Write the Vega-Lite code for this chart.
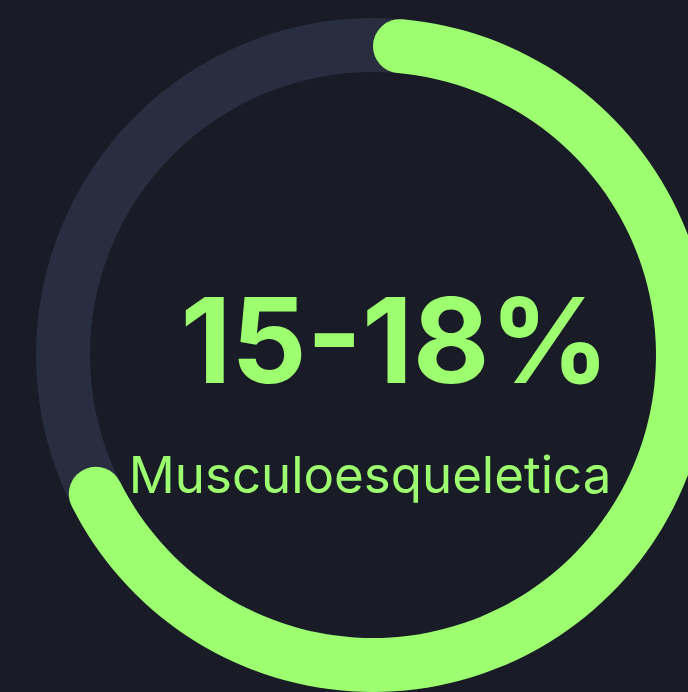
{
  "$schema": "https://vega.github.io/schema/vega-lite/v6.json",
  "width": 688,
  "height": 692,
  "autosize": {"type": "fit", "contains": "padding"},
  "padding": {"left": 58, "right": 0, "top": 18, "bottom": 0},
  "background": "#191c27",
  "config": {"view": {"stroke": null}},
  "datasets": {
    "arcs": [
      {"part": "track", "start": 0, "end": 100},
      {"part": "value", "start": 0, "end": 69}
    ],
    "labels": [
      {"kind": "value", "text": "15-18%"},
      {"kind": "category", "text": "Musculoesqueletica"}
    ]
  },
  "layer": [
    {
      "data": {"name": "arcs"},
      "transform": [{"filter": "datum.part === 'track'"}],
      "mark": {"type": "arc", "radius": 337, "radius2": 283, "color": "#282d3f"},
      "encoding": {
        "theta": {"field": "start", "type": "quantitative", "scale": {"domain": [0, 100]}},
        "theta2": {"field": "end"}
      }
    },
    {
      "data": {"name": "arcs"},
      "transform": [{"filter": "datum.part === 'value'"}],
      "mark": {"type": "arc", "radius": 337, "radius2": 283, "cornerRadius": 27, "color": "#9dff6f"},
      "encoding": {
        "theta": {"field": "start", "type": "quantitative", "scale": {"domain": [0, 100]}},
        "theta2": {"field": "end"}
      }
    },
    {
      "data": {"name": "labels"},
      "transform": [{"filter": "datum.kind === 'value'"}],
      "mark": {"type": "text", "font": "Inter", "fontWeight": 700, "fontSize": 118, "color": "#9dff6f", "align": "center", "baseline": "alphabetic", "dx": 22, "dy": 28},
      "encoding": {"text": {"field": "text"}}
    },
    {
      "data": {"name": "labels"},
      "transform": [{"filter": "datum.kind === 'category'"}],
      "mark": {"type": "text", "font": "Inter", "fontWeight": 400, "fontSize": 51, "color": "#9dff6f", "align": "center", "baseline": "alphabetic", "dx": -3, "dy": 138},
      "encoding": {"text": {"field": "text"}}
    }
  ]
}
